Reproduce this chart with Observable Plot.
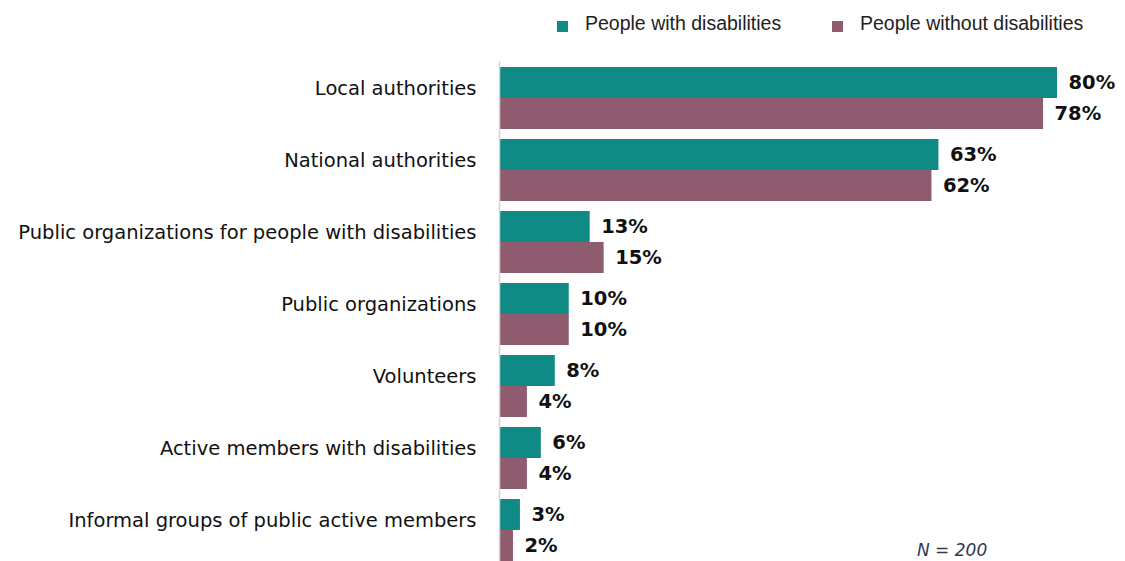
<!DOCTYPE html>
<html>
<head>
<meta charset="utf-8">
<script src="https://cdn.jsdelivr.net/npm/d3@7"></script>
<script src="https://cdn.jsdelivr.net/npm/@observablehq/plot@0.6"></script>
<style>
  html, body { margin: 0; padding: 0; background: #fff; }
  #wrap { position: relative; width: 1125px; height: 561px; overflow: hidden; }
  #legend { position: relative; height: 60px; font-family: "Liberation Sans", Arial, sans-serif; font-size: 19.5px; color: #222; }
  .item { position: absolute; top: 12px; display: flex; align-items: center; }
  .sw { width: 11px; height: 11px; margin-right: 17px; margin-top: 6px; }
  #note { position: absolute; left: 917px; top: 540px; font-family: "DejaVu Sans", Verdana, sans-serif; font-style: italic; font-size: 17px; color: #2e3a4e; }
  svg { display: block; }
</style>
</head>
<body>
<div id="wrap">
  <div id="legend"></div>
  <div id="chart"></div>
  <div id="note"></div>
</div>
<script>
const categories = [
  "Local authorities",
  "National authorities",
  "Public organizations for people with disabilities",
  "Public organizations",
  "Volunteers",
  "Active members with disabilities",
  "Informal groups of public active members"
];
const series = ["People with disabilities", "People without disabilities"];
const withDisabilities = [80, 63, 13, 10, 8, 6, 3];
const withoutDisabilities = [78, 62, 15, 10, 4, 4, 2];
const colors = ["#108a85", "#8e5b6f"];
const note = "N = 200";

const data = [];
categories.forEach((c, i) => {
  data.push({category: c, series: series[0], value: withDisabilities[i]});
  data.push({category: c, series: series[1], value: withoutDisabilities[i]});
});

// legend
const legend = document.getElementById("legend");
const legendX = [557, 832];
series.forEach((s, i) => {
  const d = document.createElement("div");
  d.className = "item";
  d.style.left = legendX[i] + "px";
  d.innerHTML = `<span class="sw" style="background:${colors[i]}"></span><span>${s}</span>`;
  legend.appendChild(d);
});
document.getElementById("note").textContent = note;

const chart = Plot.plot({
  width: 1125,
  height: 501,
  marginLeft: 499,
  marginRight: 68,
  marginTop: 7,
  marginBottom: 0,
  style: {fontFamily: "DejaVu Sans, Verdana, sans-serif", background: "#fff"},
  x: {domain: [0, 80], axis: null},
  y: {domain: series, axis: null, padding: 0},
  fy: {domain: categories, paddingInner: 10 / 72, paddingOuter: 0, label: null},
  color: {domain: series, range: colors},
  marks: [
    Plot.barX(data, {x: "value", y: "series", fy: "category", fill: "series"}),
    Plot.ruleX([0], {stroke: "#d6d6d6", strokeWidth: 1.5, insetTop: -6, insetBottom: -6}),
    Plot.text(data, {
      x: "value", y: "series", fy: "category", text: d => d.value + "%",
      dx: 11, textAnchor: "start", fontWeight: "bold", fontSize: 19.5, fill: "#111"
    }),
    Plot.axisFy({anchor: "left", tickSize: 0, tickPadding: 23, fontSize: 19.5, fill: "#111", label: null, dy: -10})
  ]
});
document.getElementById("chart").appendChild(chart);
</script>
</body>
</html>
